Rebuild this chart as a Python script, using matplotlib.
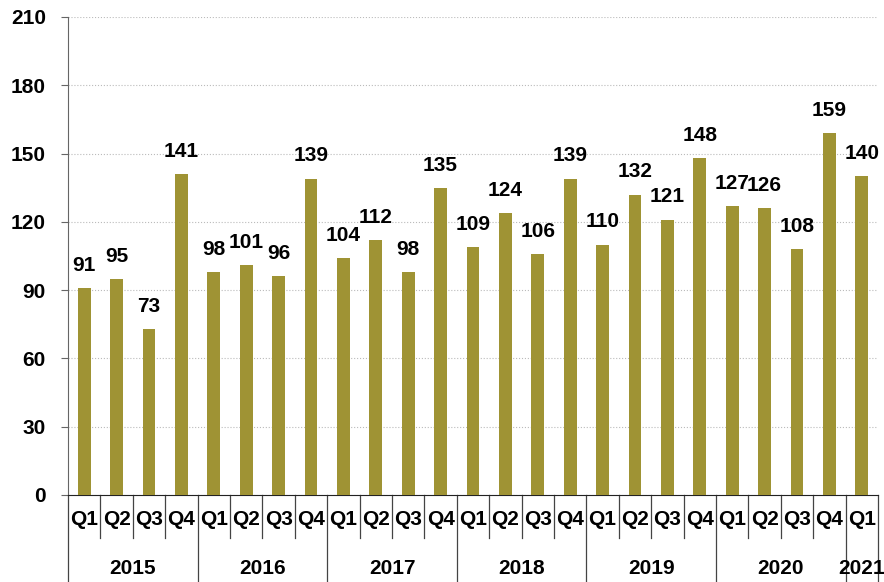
import matplotlib
matplotlib.use("Agg")
import matplotlib.pyplot as plt
import numpy as np

years = ["2015", "2016", "2017", "2018", "2019", "2020", "2021"]
quarters = ["Q1", "Q2", "Q3", "Q4"]
values = [91, 95, 73, 141,
          98, 101, 96, 139,
          104, 112, 98, 135,
          109, 124, 106, 139,
          110, 132, 121, 148,
          127, 126, 108, 159,
          140]

plt.rcParams['font.family'] = ['Liberation Sans', 'DejaVu Sans']
bar_color = "#9F9334"
fs = 15

fig = plt.figure(figsize=(8.84, 5.82), dpi=100)
ax = fig.add_axes([68 / 884, 1 - 495 / 582, 810 / 884, 478 / 582])

n = len(values)
x = np.arange(n)
ax.bar(x, values, width=0.4, color=bar_color, zorder=3)
ax.set_xlim(-0.5, n - 0.5)
ax.set_ylim(0, 210)
ax.set_yticks(range(0, 211, 30))
ax.tick_params(axis='y', labelsize=fs, length=5, color="#666666", pad=11)
for lab in ax.get_yticklabels():
    lab.set_fontweight('bold')
ax.set_xticks([])
ax.grid(axis='y', linestyle=':', color='#bbbbbb', linewidth=0.8, zorder=0)
for s in ['top', 'right']:
    ax.spines[s].set_visible(False)
ax.spines['left'].set_color('#666666')
ax.spines['bottom'].set_color('#222222')

# value labels sit well above the bars
for xi, v in zip(x, values):
    ax.annotate(str(v), (xi, v), xytext=(0, 9.5), textcoords='offset points',
                ha='center', va='bottom', fontsize=fs, fontweight='bold')

trans = ax.get_xaxis_transform()
# quarter labels and separators
for i in range(n):
    ax.text(i, -0.052, quarters[i % 4], transform=trans, ha='center', va='center',
            fontsize=fs, fontweight='bold')
for i in range(n + 1):
    b = i - 0.5
    if i % 4 == 0 or i == n:
        ax.plot([b, b], [0, -0.185], transform=trans, color='#444444', lw=0.9, clip_on=False)
    else:
        ax.plot([b, b], [0, -0.09], transform=trans, color='#444444', lw=0.9, clip_on=False)

# year labels
for k, yr in enumerate(years):
    start = k * 4
    end = min(start + 4, n)
    ax.text((start + end - 1) / 2, -0.153, yr, transform=trans, ha='center', va='center',
            fontsize=fs, fontweight='bold')

fig.savefig("out.png", dpi=100)
